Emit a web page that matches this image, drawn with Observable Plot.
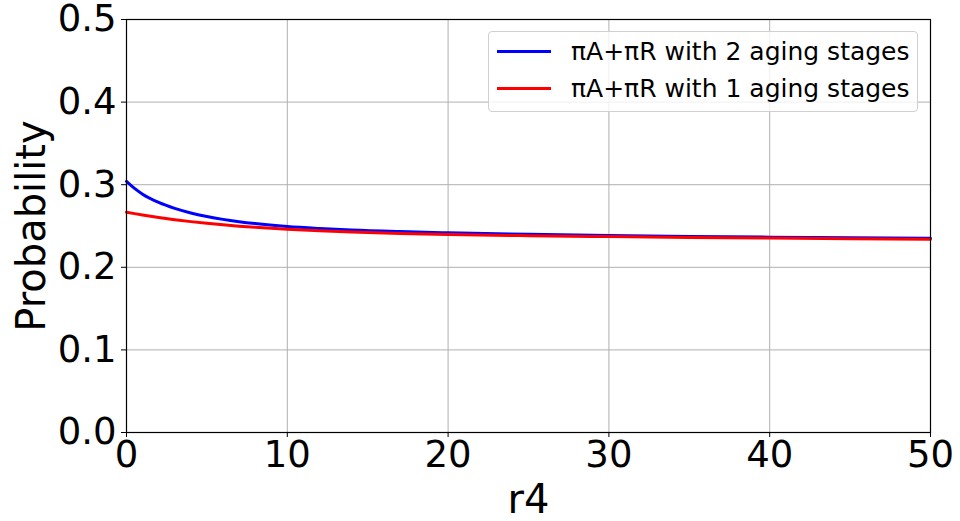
<!DOCTYPE html>
<html>
<head>
<meta charset="utf-8">
<script src="https://cdn.jsdelivr.net/npm/d3@7"></script>
<script src="https://cdn.jsdelivr.net/npm/@observablehq/plot@0.6"></script>
<style>
  html, body { margin: 0; padding: 0; background: #fff; }
  #wrap { position: relative; width: 960px; height: 521px; font-family: "DejaVu Sans", sans-serif; }
  #chart svg { overflow: visible; }
  #legend { position: absolute; left: 488px; top: 31px; width: 430px; height: 81px;
    border: 1px solid #d0d0d0; border-radius: 4px; background: rgba(255,255,255,0.8); box-sizing: border-box; }
  .item { position: absolute; left: 8px; height: 30px; display: flex; align-items: center; font-size: 25px; color: #000; white-space: nowrap; }
  .sw { width: 54px; height: 3px; margin-right: 20px; }
</style>
</head>
<body>
<div id="wrap"><div id="chart"></div><div id="legend"></div></div>
<script>
const seriesNames = ["πA+πR with 2 aging stages", "πA+πR with 1 aging stages"];
const seriesColors = ["#0000ff", "#ff0000"];
const r4 = [0, 0.5, 1, 2, 3, 4, 5, 6, 7, 8, 10, 12, 14, 17, 20, 25, 30, 35, 40, 45, 50];
const twoStages = [0.304, 0.2955, 0.2885, 0.2785, 0.2713, 0.2658, 0.2615, 0.258, 0.2552, 0.2529, 0.2494, 0.247, 0.2451, 0.2432, 0.2418, 0.2399, 0.2385, 0.2374, 0.2365, 0.2358, 0.2352];
const oneStage  = [0.2667, 0.265, 0.2634, 0.2604, 0.2577, 0.2553, 0.2532, 0.2514, 0.2498, 0.2484, 0.246, 0.2441, 0.2426, 0.2409, 0.2397, 0.2383, 0.2372, 0.2362, 0.2354, 0.2347, 0.2341];
const xTicks = [0, 10, 20, 30, 40, 50];
const yTicks = [0, 0.1, 0.2, 0.3, 0.4, 0.5];

const data = [];
r4.forEach((x, i) => data.push({r4: x, p: twoStages[i], s: seriesNames[0]}));
r4.forEach((x, i) => data.push({r4: x, p: oneStage[i], s: seriesNames[1]}));

const chart = Plot.plot({
  width: 960,
  height: 521,
  marginLeft: 126,
  marginRight: 30,
  marginTop: 19,
  marginBottom: 89,
  style: {fontFamily: "DejaVu Sans, sans-serif", fontSize: "37px", color: "#000", background: "#fff", overflow: "visible"},
  x: {domain: [0, 50]},
  y: {domain: [0, 0.5]},
  color: {domain: seriesNames, range: seriesColors},
  marks: [
    Plot.gridX(xTicks, {stroke: "#b0b0b0", strokeOpacity: 1, strokeWidth: 1}),
    Plot.gridY(yTicks, {stroke: "#b0b0b0", strokeOpacity: 1, strokeWidth: 1}),
    Plot.line(data, {x: "r4", y: "p", z: "s", stroke: "s", strokeWidth: 3, curve: "monotone-x"}),
    Plot.frame({stroke: "#000", strokeWidth: 1.2}),
    Plot.axisX(xTicks, {tickSize: 5, tickPadding: 3, fontSize: 37, label: "r4", labelAnchor: "center", labelOffset: 80, labelArrow: false, tickFormat: d => String(d)}),
    Plot.axisY(yTicks, {tickSize: 5, tickPadding: 5, fontSize: 37, label: "Probability", labelAnchor: "center", labelOffset: 110, labelArrow: false, tickFormat: d => d.toFixed(1)})
  ]
});
chart.querySelectorAll("[aria-label='x-axis label'] text, [aria-label='y-axis label'] text").forEach(t => t.style.fontSize = "40px");
document.getElementById("chart").appendChild(chart);

const legend = document.getElementById("legend");
seriesNames.forEach((name, i) => {
  const item = document.createElement("div");
  item.className = "item";
  item.style.top = (i === 0 ? 4 : 41) + "px";
  const sw = document.createElement("div");
  sw.className = "sw";
  sw.style.background = seriesColors[i];
  const t = document.createElement("span");
  t.textContent = name;
  item.appendChild(sw);
  item.appendChild(t);
  legend.appendChild(item);
});
</script>
</body>
</html>
